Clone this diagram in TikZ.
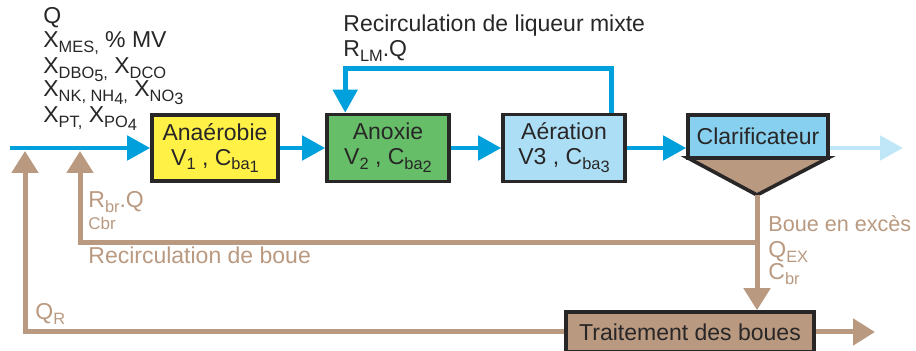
\documentclass[tikz,border=0pt]{standalone}
\usepackage{fontspec}
\setmainfont{Liberation Sans}
\usepackage{tikz}
\usetikzlibrary{positioning, arrows.meta, calc}

\definecolor{EauBlue}{RGB}{0,160,220}
\definecolor{EauLight}{RGB}{192,231,248}
\definecolor{BoueBrown}{RGB}{185,153,128}
\definecolor{AnaYellow}{RGB}{255,241,70}
\definecolor{AnoxGreen}{RGB}{102,190,104}
\definecolor{AerBlue}{RGB}{172,223,246}
\definecolor{ClarBlue}{RGB}{135,208,240}
\definecolor{InkGray}{RGB}{40,38,38}

% indice sans reduction supplementaire
\newcommand{\indice}[1]{\raisebox{-0.2em}{\fontsize{8.2}{9}\selectfont #1}}

\tikzset{
  bassin/.style={draw=InkGray, line width=1.8pt, align=center, text=InkGray,
    inner sep=0pt, font=\fontsize{11.5}{12.5}\selectfont},
  eau/.style={EauBlue, line width=2.4pt, -{Triangle[length=11.5pt,width=12pt]}},
  boue/.style={BoueBrown, line width=2.5pt, -{Triangle[length=11pt,width=13pt]}},
  lbl/.style={anchor=base west, inner sep=0pt, font=\fontsize{11.5}{12.5}\selectfont},
}

\begin{document}
\begin{tikzpicture}[x=0.5pt, y=-0.5pt]
\useasboundingbox (0,0) rectangle (916,351);

% bassins
\node[bassin, fill=AnaYellow, minimum width=63pt, minimum height=33pt] (ana) at (215,148)
  {Anaérobie\\V\indice{1} , C\indice{ba\indice{1}}};
\node[bassin, fill=AnoxGreen, minimum width=61pt, minimum height=33.5pt] (anox) at (388,148)
  {Anoxie\\V\indice{2} , C\indice{ba\indice{2}}};
\node[bassin, fill=AerBlue, minimum width=61pt, minimum height=33.5pt] (aer) at (564,148)
  {Aération\\V3 , C\indice{ba\indice{3}}};
\node[bassin, fill=ClarBlue, minimum width=70pt, minimum height=21.5pt] (clar) at (758,136.5)
  {Clarificateur};
\coordinate (apex) at (757,195);
\filldraw[draw=InkGray, fill=BoueBrown, line width=1.8pt, line join=miter]
  ([xshift=0.9pt,yshift=0.9pt]clar.south west) -- (apex) -- ([xshift=-0.9pt,yshift=0.9pt]clar.south east) -- cycle;
\node[bassin, fill=BoueBrown, minimum width=124pt, minimum height=20pt] (trait) at (690,332)
  {Traitement des boues};

% boues
\coordinate (jonction) at (757,243);
\coordinate (retour1) at (80,151);
\coordinate (retour2) at (25,151);
\coordinate (sortieB) at (875,332);
\draw[boue] (apex) -- (apex |- trait.north);
\draw[boue] (jonction) -| (retour1);
\draw[boue] (trait.west) -| (retour2);
\draw[boue] (trait.east) -- (sortieB);

% eau
\coordinate (entree) at (10,148);
\coordinate (sortie) at (903,148);
\draw[eau] (entree) -- (ana.west);
\draw[eau] (ana.east) -- (anox.west);
\draw[eau] (anox.east) -- (aer.west);
\draw[eau] (aer.east) -- (aer.east -| clar.west);
\draw[eau, EauLight] (aer.east -| clar.east) -- (sortie);
\draw[eau] ([xshift=-7.5pt]aer.north east) -- ++(0,22pt) -| ([xshift=10pt]anox.north west);

% textes
\node[lbl, InkGray] (q) at (43,24) {Q};
\node[lbl, InkGray] (xmes) at (43,48) {X\indice{MES,} \% MV};
\node[lbl, InkGray] (xdbo) at (43,74) {X\indice{DBO\indice{5},} X\indice{DCO}};
\node[lbl, InkGray] (xnk) at (43,97) {X\indice{NK, NH\indice{4},} X\indice{NO\indice{3}}};
\node[lbl, InkGray] (xpt) at (43,123) {X\indice{PT,} X\indice{PO\indice{4}}};
\node[lbl, InkGray] (rlm) at (343,32) {Recirculation de liqueur mixte};
\node[lbl, InkGray] (rlmq) at (343,57) {R\indice{LM}.Q};
\node[lbl, BoueBrown] (rbr) at (88,208) {R\indice{br}.Q};
\node[lbl, BoueBrown, font=\fontsize{8.5}{9}\selectfont] (cbr) at (88,230) {Cbr};
\node[lbl, BoueBrown] (recb) at (88,264) {Recirculation de boue};
\node[lbl, BoueBrown] (qr) at (35,320) {Q\indice{R}};
\node[lbl, BoueBrown, font=\fontsize{10.8}{12}\selectfont] (exc) at (768,232) {Boue en excès};
\node[lbl, BoueBrown] (qex) at (768,258) {Q\indice{EX}};
\node[lbl, BoueBrown] (cbrx) at (768,280) {C\indice{br}};
\end{tikzpicture}
\end{document}
